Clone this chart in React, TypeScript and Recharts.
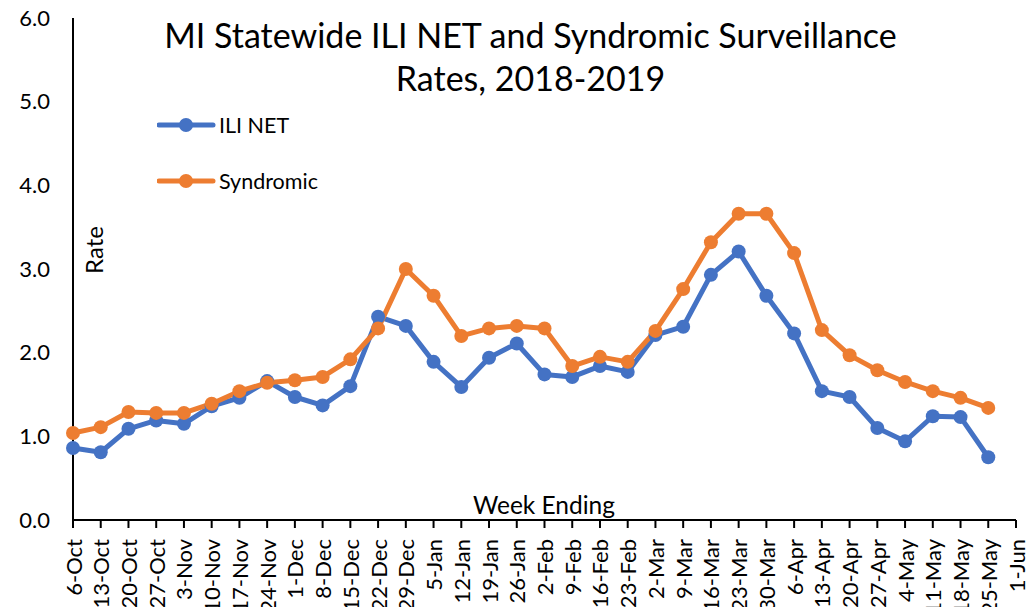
import { LineChart, Line, XAxis, YAxis, Legend } from 'recharts'

const weeks = [
  '6-Oct', '13-Oct', '20-Oct', '27-Oct', '3-Nov', '10-Nov', '17-Nov', '24-Nov',
  '1-Dec', '8-Dec', '15-Dec', '22-Dec', '29-Dec', '5-Jan', '12-Jan', '19-Jan',
  '26-Jan', '2-Feb', '9-Feb', '16-Feb', '23-Feb', '2-Mar', '9-Mar', '16-Mar',
  '23-Mar', '30-Mar', '6-Apr', '13-Apr', '20-Apr', '27-Apr', '4-May', '11-May',
  '18-May', '25-May', '1-Jun',
]

const iliNet = [
  0.86, 0.81, 1.09, 1.19, 1.15, 1.36, 1.46, 1.66,
  1.47, 1.37, 1.6, 2.43, 2.32, 1.89, 1.59, 1.94,
  2.11, 1.74, 1.71, 1.84, 1.77, 2.21, 2.31, 2.93,
  3.21, 2.68, 2.23, 1.54, 1.47, 1.1, 0.94, 1.24,
  1.23, 0.75, null,
]

const syndromic = [
  1.04, 1.11, 1.29, 1.28, 1.28, 1.39, 1.54, 1.64,
  1.67, 1.71, 1.92, 2.29, 3.0, 2.68, 2.2, 2.29,
  2.32, 2.29, 1.84, 1.95, 1.89, 2.26, 2.76, 3.32,
  3.66, 3.66, 3.19, 2.27, 1.97, 1.79, 1.65, 1.54,
  1.46, 1.34, null,
]

const yTicks = [0, 1, 2, 3, 4, 5, 6]

const BLUE = '#4472C4'
const ORANGE = '#ED7D31'
const FONT = 'Lato, "Open Sans", sans-serif'

const series = [
  { key: 'ili', name: 'ILI NET', colour: BLUE },
  { key: 'syn', name: 'Syndromic', colour: ORANGE },
]

const data = weeks.map((w, i) => ({ week: w, ili: iliNet[i], syn: syndromic[i] }))

function WeekTick(props: any) {
  const { x, y, payload } = props
  return (
    <text
      x={x}
      y={y}
      transform={`rotate(-90 ${x} ${y})`}
      textAnchor="end"
      dominantBaseline="central"
      fontSize={22}
      fontFamily={FONT}
      fill="#000"
    >
      {payload.value}
    </text>
  )
}

function LegendBox() {
  return (
    <div style={{ fontFamily: FONT, fontSize: 21.5, textAlign: 'left' }}>
      {series.map((s, i) => (
        <div key={s.key} style={{ display: 'flex', alignItems: 'center', height: 28, marginBottom: i === 0 ? 28 : 0 }}>
          <svg width={60} height={20}>
            <line x1={2} y1={10} x2={56} y2={10} stroke={s.colour} strokeWidth={5} strokeLinecap="round" />
            <circle cx={29} cy={10} r={7} fill={s.colour} />
          </svg>
          <span style={{ marginLeft: 2 }}>{s.name}</span>
        </div>
      ))}
    </div>
  )
}

export default function App() {
  return (
    <div style={{ position: 'relative', width: 1036, height: 607, background: '#fff' }}>
      <style>{'body{margin:0}'}</style>
      <LineChart width={1036} height={607} data={data} margin={{ top: 18, right: 20, left: 0, bottom: 0 }}>
        <XAxis
          dataKey="week"
          interval={0}
          height={87}
          axisLine={{ stroke: '#000', strokeWidth: 2 }}
          tickLine={{ stroke: '#000', strokeWidth: 2 }}
          tickSize={8}
          tickMargin={11}
          tick={<WeekTick />}
        />
        <YAxis
          domain={[0, 6]}
          ticks={yTicks}
          width={73}
          axisLine={{ stroke: '#000', strokeWidth: 2 }}
          tickLine={false}
          tickMargin={17}
          tickFormatter={(v: number) => v.toFixed(1)}
          tick={{ fontSize: 22, fontFamily: FONT, fill: '#000' }}
        />
        <Legend
          layout="horizontal"
          verticalAlign="middle"
          align="center"
          content={<LegendBox />}
          wrapperStyle={{ position: 'absolute', left: 157, top: 111, width: 220 }}
        />
        {series.map(s => (
          <Line
            key={s.key}
            dataKey={s.key}
            name={s.name}
            stroke={s.colour}
            strokeWidth={5}
            strokeLinejoin="round"
            dot={{ r: 7, fill: s.colour, stroke: s.colour, strokeWidth: 0 }}
            isAnimationActive={false}
          />
        ))}
      </LineChart>
      <div
        style={{
          position: 'absolute', left: 0, width: 1061, top: 13, textAlign: 'center',
          fontFamily: FONT, fontSize: 34, lineHeight: '43px', color: '#000',
        }}
      >
        MI Statewide ILI NET and Syndromic Surveillance
        <br />
        Rates, 2018-2019
      </div>
      <div
        style={{
          position: 'absolute', left: 93, top: 250, transform: 'translate(-50%, -50%) rotate(-90deg)',
          fontFamily: FONT, fontSize: 24, color: '#000', whiteSpace: 'nowrap',
        }}
      >
        Rate
      </div>
      <div
        style={{
          position: 'absolute', left: 544, top: 504, transform: 'translate(-50%, -50%)',
          fontFamily: FONT, fontSize: 24.5, color: '#000', whiteSpace: 'nowrap',
        }}
      >
        Week Ending
      </div>
    </div>
  )
}
